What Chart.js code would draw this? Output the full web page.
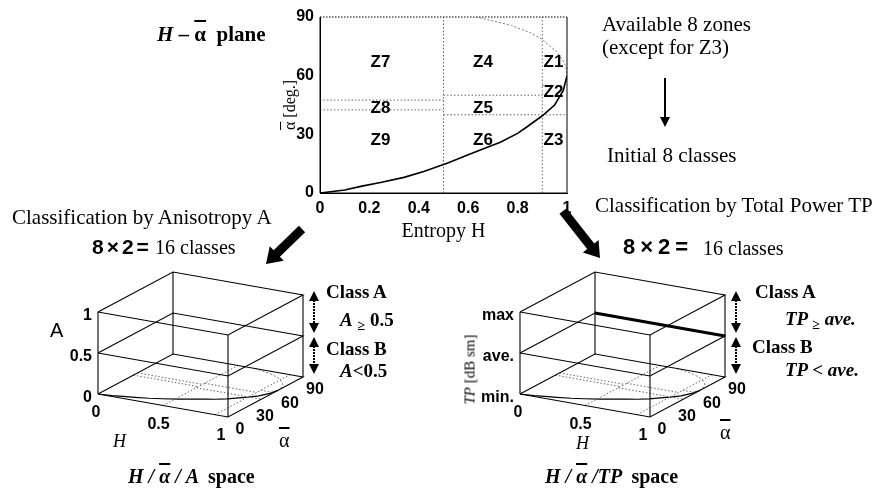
<!DOCTYPE html>
<html>
<head>
<meta charset="utf-8">
<script src="https://cdn.jsdelivr.net/npm/chart.js@4.4.0/dist/chart.umd.min.js"></script>
<style>
html, body { margin: 0; padding: 0; background: #fff; }
#wrap { position: relative; width: 882px; height: 490px; overflow: hidden; }
canvas { position: absolute; left: 0; top: 0; }
.t { position: absolute; white-space: nowrap; line-height: 1; color: #000; font-family: 'Liberation Serif', 'Times New Roman', serif; }
.s { font-family: 'Liberation Sans', Arial, sans-serif; font-weight: bold; }
.b { font-weight: bold; }
.i { font-style: italic; }
.ol { text-decoration: overline; }
.sub { font-size: 14px; vertical-align: -4px; }
</style>
</head>
<body>
<div id="wrap">
  <canvas id="boxes" width="882" height="490"></canvas>
  <canvas id="plane" width="882" height="490"></canvas>

  <div class="t b" style="left:157px;top:24px;font-size:21px;"><span class="i">H</span> – <span class="ol">α</span>&nbsp; plane</div>
  <div class="t" style="left:240px;top:97px;width:100px;text-align:center;font-size:16px;transform:rotate(-90deg);"><span class="ol">α</span> [deg.]</div>

  <div class="t" style="left:602px;top:14px;font-size:21px;">Available 8 zones</div>
  <div class="t" style="left:602px;top:37px;font-size:21px;">(except for Z3)</div>
  <div class="t" style="left:607px;top:145px;font-size:21px;">Initial 8 classes</div>

  <div class="t" style="left:12px;top:207px;font-size:21px;">Classification by Anisotropy A</div>
  <div class="t s" style="left:92px;top:236px;font-size:21px;letter-spacing:3px;">8×2=</div>
  <div class="t" style="left:155px;top:237px;font-size:20px;">16 classes</div>

  <div class="t" style="left:595px;top:195px;font-size:21px;">Classification by Total Power TP</div>
  <div class="t s" style="left:623px;top:236px;font-size:22px;letter-spacing:5px;">8×2=</div>
  <div class="t" style="left:703px;top:238px;font-size:20px;">16 classes</div>

  <div class="t s" style="left:50px;top:320px;font-size:20px;font-weight:normal;">A</div>
  <div class="t i" style="left:113px;top:432px;font-size:18px;">H</div>
  <div class="t" style="left:279px;top:430px;font-size:20px;"><span class="ol">α</span></div>
  <div class="t b" style="left:326px;top:282px;font-size:19px;">Class A</div>
  <div class="t b" style="left:340px;top:310px;font-size:19px;"><span class="i">A</span> <span class="sub">≥</span> 0.5</div>
  <div class="t b" style="left:326px;top:339px;font-size:19px;">Class B</div>
  <div class="t b" style="left:340px;top:361px;font-size:19px;"><span class="i">A</span>&lt;0.5</div>
  <div class="t b i" style="left:128px;top:466px;font-size:20px;">H / <span class="ol">α</span> / A &nbsp;<span style="font-style:normal;">space</span></div>

  <div class="t" style="left:420px;top:362px;width:100px;text-align:center;font-size:15px;transform:rotate(-90deg);"><span class="i">TP</span> [dB sm]</div>
  <div class="t i" style="left:576px;top:434px;font-size:18px;">H</div>
  <div class="t" style="left:720px;top:422px;font-size:20px;"><span class="ol">α</span></div>
  <div class="t b" style="left:755px;top:282px;font-size:19px;">Class A</div>
  <div class="t b i" style="left:785px;top:309px;font-size:19px;">TP <span class="sub">≥</span> ave.</div>
  <div class="t b" style="left:752px;top:337px;font-size:19px;">Class B</div>
  <div class="t b i" style="left:785px;top:360px;font-size:19px;">TP &lt; ave.</div>
  <div class="t b i" style="left:545px;top:466px;font-size:20px;">H / <span class="ol">α</span> /TP &nbsp;<span style="font-style:normal;">space</span></div>
</div>

<script>
// 軸の目盛
const hTicks = [0, 0.2, 0.4, 0.6, 0.8, 1];
const alphaTicks = [0, 30, 60, 90];

// 境界曲線
const lowerH = [0, 0.1, 0.17, 0.25, 0.34, 0.42, 0.52, 0.6, 0.68, 0.73, 0.8, 0.84, 0.9, 0.95, 0.985, 1];
const lowerAlpha = [0, 1.5, 3.5, 5.5, 8, 11, 15.5, 19.5, 23.5, 26, 30.5, 34, 39.5, 45, 52.5, 60];
const upperH = [0.63, 0.7, 0.775, 0.85, 0.9, 0.96, 0.985, 0.996, 1];
const upperAlpha = [90, 88, 85.7, 82, 78.5, 72, 67.5, 64.3, 60];

// ゾーンの区切り
const zoneEdgeH = [0.5, 0.9];
const cutFromH = [0, 0, 0.5, 0.5, 0.9, 0.9];
const cutToH = [0.5, 0.5, 0.9, 0.9, 1, 1];
const cutAlpha = [47.5, 42.5, 50, 40, 55, 40];

// ゾーン名と位置
const zoneNames = ['Z1', 'Z2', 'Z3', 'Z4', 'Z5', 'Z6', 'Z7', 'Z8', 'Z9'];
const zoneH = [0.945, 0.945, 0.945, 0.66, 0.66, 0.66, 0.245, 0.245, 0.245];
const zoneAlpha = [67, 51.5, 27, 67, 43.5, 27, 67, 43.5, 27];

// 3次元空間の目盛
const boxHTicks = [0, 0.5, 1];
const boxAlphaTicks = [0, 30, 60, 90];
const classLevels = [0, 0.5, 1];
const anisoLabels = ['0', '0.5', '1'];
const powerLabels = ['min.', 'ave.', 'max'];

const pts = (hs, as) => hs.map((h, i) => ({x: h, y: as[i]}));
const dotted = {borderColor: '#666', borderWidth: 1, borderDash: [1.5, 2]};

// H-α 平面
const planeDatasets = [
    {data: pts(lowerH, lowerAlpha), borderColor: '#000', borderWidth: 1.6},
    {data: pts(upperH, upperAlpha), borderColor: '#777', borderWidth: 1, borderDash: [2, 2]},
];
zoneEdgeH.forEach(h => planeDatasets.push({...dotted, data: [{x: h, y: 0}, {x: h, y: 90}]}));
cutAlpha.forEach((a, i) => planeDatasets.push({...dotted, data: [{x: cutFromH[i], y: a}, {x: cutToH[i], y: a}]}));

const planePlugin = {
    id: 'planeExtras',
    afterDatasetsDraw(chart) {
        const {ctx, chartArea: ca, scales} = chart;
        ctx.save();
        ctx.strokeStyle = '#000';
        ctx.lineWidth = 1;
        ctx.beginPath();
        ctx.moveTo(ca.left, ca.top); ctx.lineTo(ca.left, ca.bottom);
        ctx.lineTo(ca.right, ca.bottom); ctx.lineTo(ca.right, ca.top);
        ctx.stroke();
        ctx.setLineDash([1.5, 1.5]);
        ctx.beginPath();
        ctx.moveTo(ca.left, ca.top); ctx.lineTo(ca.right, ca.top);
        ctx.stroke();
        ctx.setLineDash([]);
        ctx.fillStyle = '#000';
        ctx.font = 'bold 17px "Liberation Sans", Arial, sans-serif';
        ctx.textAlign = 'center';
        ctx.textBaseline = 'middle';
        zoneNames.forEach((z, i) => {
            ctx.fillText(z, scales.x.getPixelForValue(zoneH[i]), scales.y.getPixelForValue(zoneAlpha[i]));
        });
        ctx.restore();
    }
};

const tickFont = {family: '"Liberation Sans", Arial, sans-serif', size: 16, weight: 'bold'};

new Chart(document.getElementById('plane'), {
    type: 'scatter',
    data: {datasets: planeDatasets},
    options: {
        responsive: false,
        animation: false,
        layout: {padding: {left: 280, right: 315, top: 17, bottom: 246}},
        elements: {point: {radius: 0}, line: {tension: 0}},
        datasets: {scatter: {showLine: true, fill: false}},
        plugins: {legend: {display: false}, tooltip: {enabled: false}},
        scales: {
            x: {
                min: 0, max: 1,
                afterBuildTicks: s => { s.ticks = hTicks.map(v => ({value: v})); },
                afterFit: s => { s.height = 51; },
                grid: {display: false, drawTicks: false},
                border: {display: true, color: '#000'},
                ticks: {color: '#000', font: tickFont, padding: 6, callback: v => String(v)},
                title: {display: true, text: 'Entropy H', color: '#000', padding: 0,
                        font: {family: '"Liberation Serif", serif', size: 20}}
            },
            y: {
                min: 0, max: 90,
                afterBuildTicks: s => { s.ticks = alphaTicks.map(v => ({value: v})); },
                afterFit: s => { s.width = 40; },
                grid: {display: false, drawTicks: false},
                border: {display: true, color: '#000'},
                ticks: {color: '#000', font: tickFont, padding: 6}
            }
        }
    },
    plugins: [planePlugin]
});

// 3次元ボックス (H, α, レベル) を画面へ投影
const boxes = [
    {x0: 98, y0: 394, labels: anisoLabels, thickMid: false},
    {x0: 520, y0: 394, labels: powerLabels, thickMid: true}
];
function proj(b, h, a, z) {
    return {x: b.x0 + h * 130 + a / 90 * 75, y: b.y0 + h * 23 - a / 90 * 40 - z * 82};
}

const boxDatasets = [];
function seg(points, style) {
    boxDatasets.push({data: points, borderColor: '#000', borderWidth: 1.1, ...style});
}
boxes.forEach(b => {
    classLevels.forEach(z => {
        seg([proj(b, 0, 0, z), proj(b, 1, 0, z), proj(b, 1, 90, z), proj(b, 0, 90, z), proj(b, 0, 0, z)]);
    });
    [[0, 0], [1, 0], [1, 90], [0, 90]].forEach(([h, a]) => seg([proj(b, h, a, 0), proj(b, h, a, 1)]));
    zoneEdgeH.forEach(h => seg([proj(b, h, 0, 0), proj(b, h, 90, 0)], dotted));
    cutAlpha.forEach((a, i) => seg([proj(b, cutFromH[i], a, 0), proj(b, cutToH[i], a, 0)], dotted));
    seg(lowerH.map((h, i) => proj(b, h, lowerAlpha[i], 0)), {borderWidth: 1.2});
    seg(upperH.map((h, i) => proj(b, h, upperAlpha[i], 0)), {borderColor: '#777', borderWidth: 1, borderDash: [2, 2]});
    if (b.thickMid) seg([proj(b, 0, 90, 0.5), proj(b, 1, 90, 0.5)], {borderWidth: 3.2});
});

function fatArrow(ctx, x1, y1, x2, y2, w, hw, hl) {
    const ang = Math.atan2(y2 - y1, x2 - x1);
    const len = Math.hypot(x2 - x1, y2 - y1);
    ctx.save();
    ctx.translate(x1, y1);
    ctx.rotate(ang);
    ctx.beginPath();
    ctx.moveTo(0, -w / 2); ctx.lineTo(len - hl, -w / 2); ctx.lineTo(len - hl, -hw / 2);
    ctx.lineTo(len, 0);
    ctx.lineTo(len - hl, hw / 2); ctx.lineTo(len - hl, w / 2); ctx.lineTo(0, w / 2);
    ctx.closePath();
    ctx.fill();
    ctx.restore();
}
function head(ctx, x, y, dir) {
    ctx.beginPath();
    ctx.moveTo(x, y);
    ctx.lineTo(x - 5, y - dir * 10);
    ctx.lineTo(x + 5, y - dir * 10);
    ctx.closePath();
    ctx.fill();
}
function doubleArrow(ctx, x, yTop, yBot) {
    ctx.setLineDash([2, 1]);
    ctx.lineWidth = 2;
    ctx.beginPath(); ctx.moveTo(x, yTop + 6); ctx.lineTo(x, yBot - 6); ctx.stroke();
    ctx.setLineDash([]);
    head(ctx, x, yTop, -1);
    head(ctx, x, yBot, 1);
}

const boxPlugin = {
    id: 'boxExtras',
    afterDatasetsDraw(chart) {
        const {ctx} = chart;
        ctx.save();
        ctx.fillStyle = '#000';
        ctx.strokeStyle = '#000';
        ctx.font = 'bold 16px "Liberation Sans", Arial, sans-serif';
        ctx.textBaseline = 'middle';
        boxes.forEach(b => {
            ctx.textAlign = 'right';
            classLevels.forEach((z, i) => {
                const p = proj(b, 0, 0, z);
                ctx.fillText(b.labels[i], p.x - 6, p.y + 4);
            });
            ctx.textAlign = 'center';
            boxHTicks.forEach(h => {
                const p = proj(b, h, 0, 0);
                ctx.fillText(String(h), p.x - 2 - 5 * h, p.y + 19);
            });
            boxAlphaTicks.forEach(a => {
                const p = proj(b, 1, a, 0);
                ctx.fillText(String(a), p.x + 12, p.y + 13);
            });
            const top = proj(b, 1, 90, 1), mid = proj(b, 1, 90, 0.5), bot = proj(b, 1, 90, 0);
            doubleArrow(ctx, top.x + 11, top.y - 4, mid.y - 3);
            doubleArrow(ctx, top.x + 11, mid.y + 1, bot.y - 3);
        });
        // 太い矢印
        fatArrow(ctx, 302, 229, 266, 264, 9, 20, 15);
        fatArrow(ctx, 563, 211, 600, 258, 9, 20, 15);
        // 下向き矢印
        ctx.lineWidth = 2;
        ctx.beginPath(); ctx.moveTo(665, 78); ctx.lineTo(665, 118); ctx.stroke();
        head(ctx, 665, 127, 1);
        ctx.restore();
    }
};

new Chart(document.getElementById('boxes'), {
    type: 'scatter',
    data: {datasets: boxDatasets},
    options: {
        responsive: false,
        animation: false,
        layout: {padding: 0},
        elements: {point: {radius: 0}, line: {tension: 0}},
        datasets: {scatter: {showLine: true, fill: false, clip: false}},
        plugins: {legend: {display: false}, tooltip: {enabled: false}},
        scales: {
            x: {display: false, min: 0, max: 882},
            y: {display: false, min: 0, max: 490, reverse: true}
        }
    },
    plugins: [boxPlugin]
});
</script>
</body>
</html>
